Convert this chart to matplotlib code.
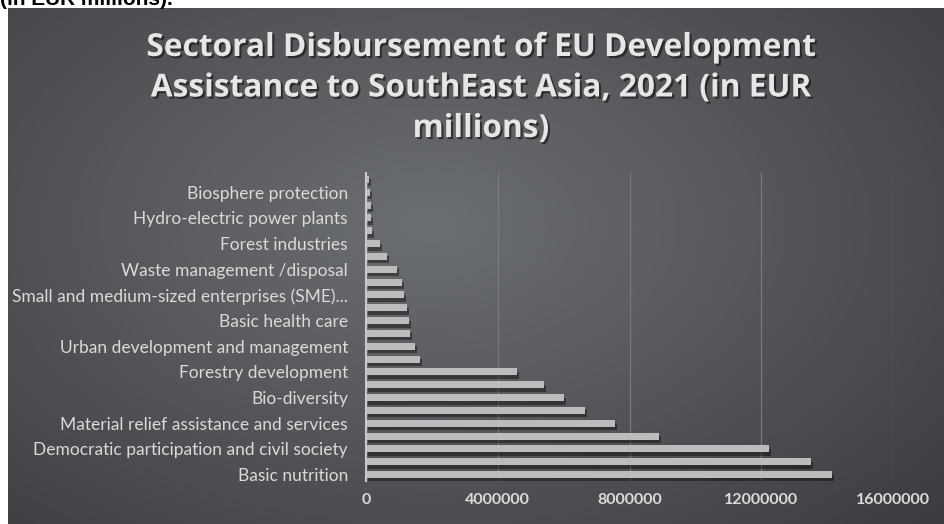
import numpy as np
import matplotlib
matplotlib.use('Agg')
import matplotlib.pyplot as plt
import matplotlib.patheffects as pe
from matplotlib.ticker import FixedLocator

# bar values in EUR, bottom bar first (Basic nutrition)
values = [14160000, 13510000, 12230000, 8900000, 7560000, 6650000, 6010000,
          5400000, 4570000, 1640000, 1490000, 1340000, 1310000, 1250000,
          1150000, 1100000, 930000, 630000, 420000, 170000, 150000,
          140000, 120000, 90000]

# only every other category is labelled in the picture
shown_labels = ['Basic nutrition',
                'Democratic participation and civil society',
                'Material relief assistance and services',
                'Bio-diversity',
                'Forestry development',
                'Urban development and management',
                'Basic health care',
                'Small and medium-sized enterprises (SME)...',
                'Waste management /disposal',
                'Forest industries',
                'Hydro-electric power plants',
                'Biosphere protection']

x_ticks = [0, 4000000, 8000000, 12000000, 16000000]

title = 'Sectoral Disbursement of EU Development\nAssistance to SouthEast Asia, 2021 (in EUR\nmillions)'

W, H = 944, 524
fig = plt.figure(figsize=(W / 100, H / 100), dpi=100)
fig.patch.set_facecolor('white')

# cut off caption line from the page above
fig.text(0.0, 1 - 5 / H, '(in EUR millions).', fontsize=15, fontweight='bold',
         family='Liberation Sans', color='black', va='baseline', ha='left')

# gradient background of the chart area
bg = fig.add_axes([8 / W, 0, 1 - 8 / W, 1 - 8 / H])
bg.set_axis_off()
yy, xx = np.mgrid[0:1:300j, 0:1:500j]
r = np.sqrt(((xx - 0.45) / 0.75) ** 2 + ((yy - 0.42) / 0.85) ** 2)
r = np.clip(r, 0, 1)
light = np.array([0x6c, 0x6f, 0x72]) / 255
dark = np.array([0x3c, 0x3c, 0x40]) / 255
img = light[None, None, :] * (1 - r[..., None]) + dark[None, None, :] * r[..., None]
bg.imshow(img, aspect='auto', extent=[0, 1, 1, 0], interpolation='bicubic')
bg.set_xlim(0, 1)
bg.set_ylim(1, 0)

fig.text(481 / W, 1 - 31 / H, title, ha='center', va='top', fontsize=22.8,
         fontweight='bold', family='Open Sans', color='#e6e6e6',
         linespacing=1.3,
         path_effects=[pe.withSimplePatchShadow(offset=(1.5, -1.5),
                                                 shadow_rgbFace='black', alpha=0.5)])

ax = fig.add_axes([366 / W, 43 / H, 527 / W, 308 / H])
ax.patch.set_alpha(0)
pos = np.arange(len(values))
bars = ax.barh(pos, values, height=0.55, color='#bcbcbe', zorder=3)
for b in bars:
    b.set_path_effects([pe.SimplePatchShadow(offset=(1.5, -2.5), shadow_rgbFace='black', alpha=0.4),
                        pe.Normal()])

ax.set_xlim(0, 16000000)
ax.set_ylim(-0.5, len(values) - 0.5)
ax.set_yticks(pos[::2])
ax.set_yticklabels(shown_labels)
ax.xaxis.set_major_locator(FixedLocator(x_ticks))
ax.set_xticklabels([str(v) for v in x_ticks])

for s in ['top', 'right', 'bottom']:
    ax.spines[s].set_visible(False)
ax.spines['left'].set_color('#c8c8c8')
ax.spines['left'].set_linewidth(1.5)
ax.spines['left'].set_zorder(4)

ax.grid(axis='x', color='#78797c', linewidth=0.9, zorder=1)
ax.tick_params(axis='both', length=0, colors='#dadada')
ax.tick_params(axis='y', pad=13)
ax.tick_params(axis='x', pad=9)
for t in ax.get_yticklabels():
    t.set_family('Lato')
    t.set_fontsize(12.5)
for t in ax.get_xticklabels():
    t.set_family('Lato')
    t.set_fontsize(11.5)
    t.set_fontweight('bold')

fig.savefig('out.png', dpi=100, facecolor=fig.get_facecolor())
